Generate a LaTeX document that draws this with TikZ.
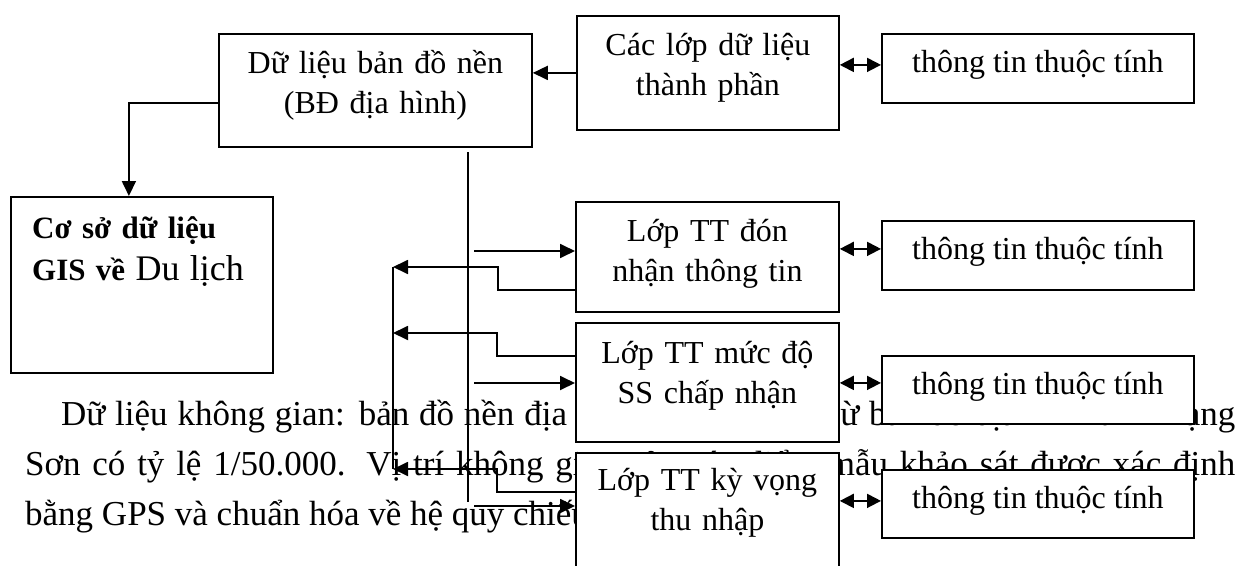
\documentclass[tikz,border=0pt]{standalone}
\usepackage{fontspec}
\setmainfont{Liberation Serif}
\usetikzlibrary{positioning, arrows.meta, calc}

\tikzset{
    box/.style={draw, line width=1.8pt, fill=white, inner sep=0pt, anchor=north west},
    boxtext/.style={align=center, font=\fontsize{32}{40}\selectfont, inner sep=0pt, anchor=base},
    para/.style={font=\fontsize{35}{50}\selectfont, inner sep=0pt, anchor=base west},
    link/.style={line width=1.8pt},
    arr/.style={link, -{Triangle[length=15pt, width=14pt]}},
    dbl/.style={link, {Triangle[length=14pt, width=14pt]}-{Triangle[length=14pt, width=14pt]}}
}

\begin{document}
\begin{tikzpicture}[x=1pt, y=-1pt]
    \useasboundingbox (0,0) rectangle (1245,565);
    \fill[white] (0,0) rectangle (1245,565);
    \clip (0,0) rectangle (1245,565);

    % paragraph lying behind the diagram
    \node[para] (line1) at (61,425) {\makebox[1174pt][s]{Dữ liệu không gian: bản đồ nền địa hình được số hóa từ bản đồ địa hình tỉnh Lạng}};
    \node[para] (line2) at (25,475) {\makebox[1210pt][s]{Sơn có tỷ lệ 1/50.000. Vị trí không gian của các điểm mẫu khảo sát được xác định}};
    \node[para] (line3) at (25,525) {bằng GPS và chuẩn hóa về hệ quy chiếu};

    % boxes
    \node[box, minimum width=313pt, minimum height=113pt] (base)   at (218,33)  {};
    \node[box, minimum width=262pt, minimum height=114pt] (layers) at (576,15)  {};
    \node[box, minimum width=312pt, minimum height=69pt]  (attrA)  at (881,33)  {};
    \node[box, minimum width=262pt, minimum height=176pt] (gis)    at (10,196)  {};
    \node[box, minimum width=263pt, minimum height=110pt] (recv)   at (575,201) {};
    \node[box, minimum width=312pt, minimum height=69pt]  (attrB)  at (881,220) {};
    \node[box, minimum width=263pt, minimum height=119pt] (accept) at (575,322) {};
    \node[box, minimum width=312pt, minimum height=68pt]  (attrC)  at (881,355) {};
    \node[box, minimum width=263pt, minimum height=150pt] (income) at (575,452) {};
    \node[box, minimum width=312pt, minimum height=68pt]  (attrD)  at (881,469) {};

    % box texts
    \node[boxtext, text width=300pt] (baseT)   at ($(base.north)+(0,40)$)   {Dữ liệu bản đồ nền\\(BĐ địa hình)};
    \node[boxtext, text width=250pt] (layersT) at ($(layers.north)+(0,40)$) {Các lớp dữ liệu\\thành phần};
    \node[boxtext, text width=250pt] (recvT)   at ($(recv.north)+(0,40)$)   {Lớp TT đón\\nhận thông tin};
    \node[boxtext, text width=250pt] (acceptT) at ($(accept.north)+(0,41)$) {Lớp TT mức độ\\SS chấp nhận};
    \node[boxtext, text width=250pt] (incomeT) at ($(income.north)+(0,38)$) {Lớp TT kỳ vọng\\thu nhập};
    \foreach \n in {attrA, attrB, attrC, attrD}
        \node[boxtext] (\n T) at ($(\n.center)+(0,4.5)$) {thông tin thuộc tính};
    \node[boxtext, align=left, anchor=base west, text width=235pt, font=\fontsize{31}{42}\selectfont] (gisT) at (32,238)
        {\textbf{Cơ sở dữ liệu}\\\textbf{GIS về} {\fontsize{36}{42}\selectfont Du lịch}};

    % connectors at the top
    \draw[arr] (layers.west) -- (layers.west -| base.east);
    \draw[arr] ([yshift=-12.5pt]base.west) -| ([xshift=-13pt]gis.north);
    \foreach \a/\b/\s in {layers/attrA/3.5, recv/attrB/6.5, accept/attrC/7, income/attrD/3}
        \draw[dbl] ([yshift=\s pt]\b.west) -- ([yshift=\s pt]\b.west -| \a.east);

    % trunk from the base map to the layers
    \coordinate (trunkTop) at (468,152);
    \coordinate (trunkEnd) at (468,502);
    \draw[link] (trunkTop) -- (trunkEnd);
    \coordinate (tA) at (474,251);
    \coordinate (tB) at (474,383);
    \coordinate (tC) at (474,506);
    \foreach \t/\n in {tA/recv, tB/accept, tC/income}
        \draw[arr] (\t) -- (\t -| \n.west);

    % return bus
    \coordinate (busTop) at (393,267);
    \coordinate (busMid) at (393,333);
    \coordinate (busBot) at (393,469);
    \draw[link] (busTop) -- (busBot);
    \draw[arr] ([yshift=-33pt]recv.west) -- ++(-77,0) |- (busTop);
    \draw[arr] ([yshift=26.5pt]accept.west) -- ++(-78,0) |- (busMid);
    \draw[arr] ([yshift=36pt]income.west) -- ++(-78,0) |- (busBot);
\end{tikzpicture}
\end{document}
